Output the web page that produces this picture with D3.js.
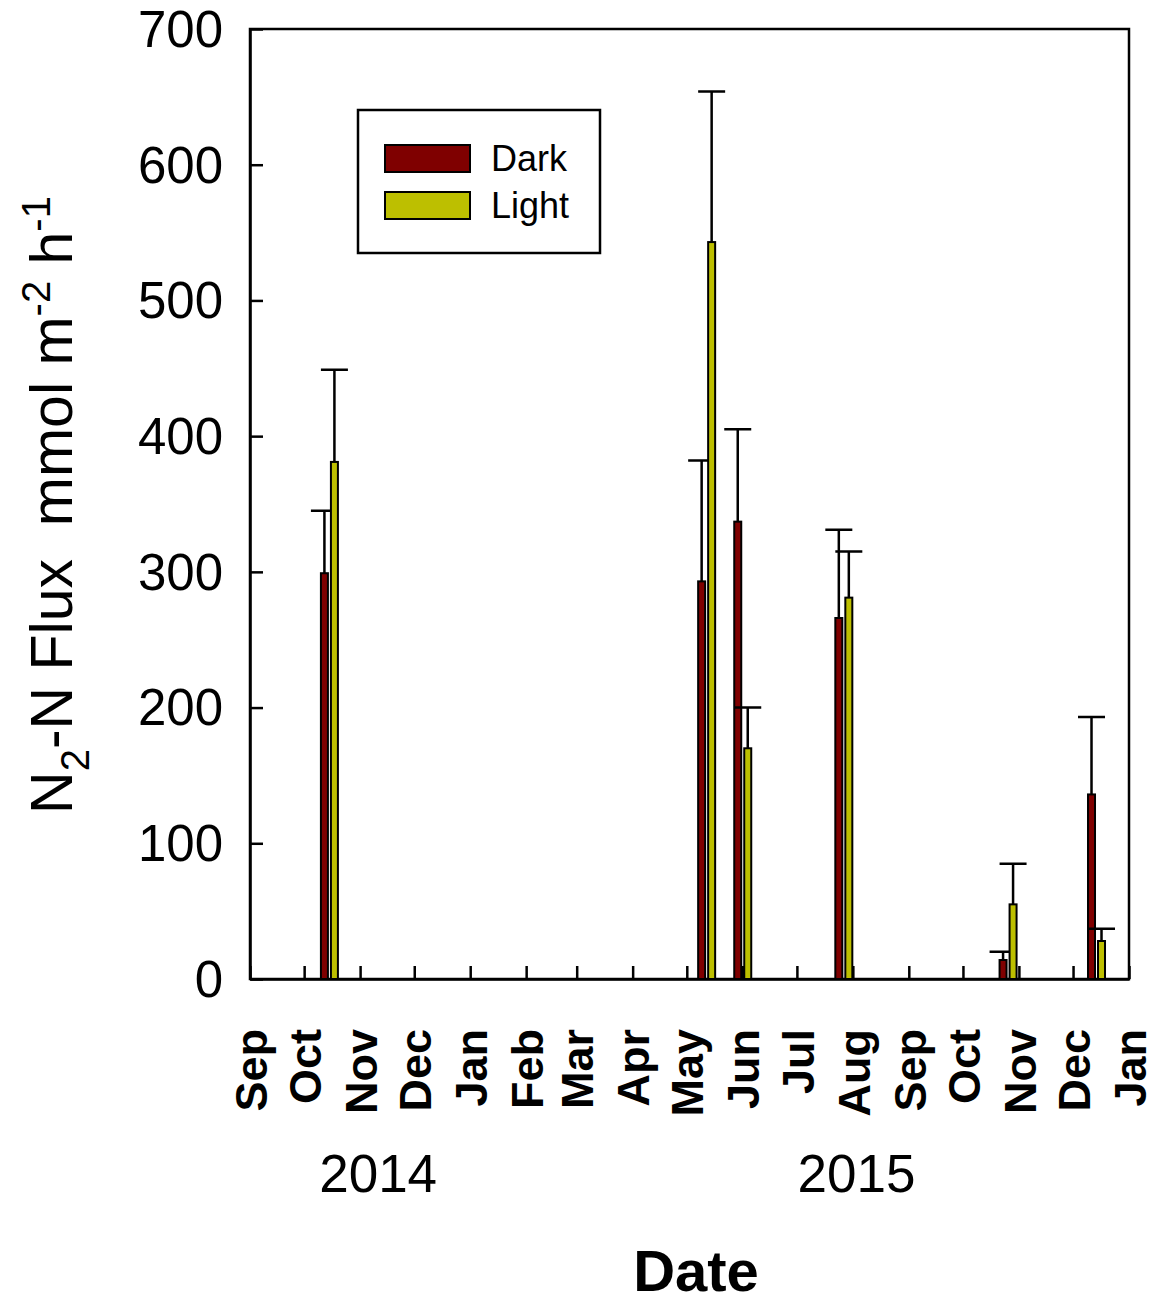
<!DOCTYPE html>
<html>
<head>
<meta charset="utf-8">
<script src="https://cdn.jsdelivr.net/npm/d3@7"></script>
<style>
  html, body { margin: 0; padding: 0; background: #fff; }
  svg { display: block; font-family: "Liberation Sans", Arial, sans-serif; }
</style>
</head>
<body>
<svg id="chart" width="1151" height="1301"></svg>
<script>
// Sampling dates (centre of each Dark/Light pair)
const sampleDates = ["2014-10-15", "2015-05-12", "2015-06-01", "2015-07-27", "2015-10-26", "2015-12-14"];
// N2-N flux, mmol m-2 h-1, with upper error (SE)
const darkFlux  = [299, 293, 337, 266, 14, 136];
const darkErr   = [46, 89, 68, 65, 6, 57];
const lightFlux = [381, 543, 170, 281, 55, 28];
const lightErr  = [68, 111, 30, 34, 30, 9];
const seriesNames = ["Dark", "Light"];
const yTicks = [0, 100, 200, 300, 400, 500, 600, 700];
const yearLabels = [
  { year: "2014", at: "2014-11-11" },
  { year: "2015", at: "2015-08-03" }
];

const colors = { Dark: "#7f0000", Light: "#bdbf00" };

const svg = d3.select("#chart");
const plotLeft = 250, plotRight = 1129, plotTop = 29, plotBottom = 979;

const parse = d3.utcParse("%Y-%m-%d");
const x = d3.scaleUtc()
  .domain([Date.UTC(2014, 8, 1), Date.UTC(2016, 0, 1)])
  .range([plotLeft, plotRight]);
const y = d3.scaleLinear().domain([0, 700]).range([plotBottom, plotTop]);

const months = d3.utcMonth.range(Date.UTC(2014, 8, 1), Date.UTC(2016, 0, 2));

// frame
svg.append("rect")
  .attr("x", plotLeft).attr("y", plotTop)
  .attr("width", plotRight - plotLeft).attr("height", plotBottom - plotTop)
  .attr("fill", "none").attr("stroke", "#000").attr("stroke-width", 2.5);

// x axis
const xAxis = svg.append("g")
  .attr("transform", `translate(0,${plotBottom})`)
  .call(d3.axisBottom(x).tickValues(months).tickSizeInner(-13).tickSizeOuter(0)
    .tickFormat(d3.utcFormat("%b")));
xAxis.select(".domain").attr("stroke-width", 2.5);
xAxis.selectAll(".tick line").attr("stroke-width", 2.5);
xAxis.selectAll(".tick text")
  .attr("transform", "rotate(-90)")
  .attr("x", -50).attr("y", 0).attr("dy", "0.36em")
  .attr("text-anchor", "end")
  .style("font-family", '"Liberation Sans", Arial, sans-serif')
  .style("font-size", "45px").style("font-weight", "bold").attr("fill", "#000");

// y axis
const yAxis = svg.append("g")
  .attr("transform", `translate(${plotLeft},0)`)
  .call(d3.axisLeft(y).tickValues(yTicks).tickSizeInner(-13).tickSizeOuter(0)
    .tickPadding(27));
yAxis.select(".domain").attr("stroke-width", 2.5);
yAxis.selectAll(".tick line").attr("stroke-width", 2.5);
yAxis.selectAll(".tick text")
  .attr("dy", "0.34em")
  .style("font-family", '"Liberation Sans", Arial, sans-serif')
  .style("font-size", "51px").attr("fill", "#000");

// bars + error bars
const rows = sampleDates.map((d, i) => ({
  date: parse(d),
  Dark: { v: darkFlux[i], e: darkErr[i] },
  Light: { v: lightFlux[i], e: lightErr[i] }
}));
const barW = 7, capHalf = 13.5;
const offset = { Dark: -5, Light: 5 };

seriesNames.forEach(name => {
  const g = svg.append("g");
  // error bars (upper only)
  g.selectAll("path.err").data(rows).join("path")
    .attr("class", "err")
    .attr("d", r => {
      const cx = x(r.date) + offset[name];
      const y0 = y(r[name].v), y1 = y(r[name].v + r[name].e);
      return `M${cx},${y0}V${y1}M${cx - capHalf},${y1}H${cx + capHalf}`;
    })
    .attr("fill", "none").attr("stroke", "#000").attr("stroke-width", 2.5);
  g.selectAll("rect").data(rows).join("rect")
    .attr("x", r => x(r.date) + offset[name] - barW / 2)
    .attr("y", r => y(r[name].v))
    .attr("width", barW)
    .attr("height", r => y(0) - y(r[name].v))
    .attr("fill", colors[name]).attr("stroke", "#000").attr("stroke-width", 2);
});

// year labels
svg.selectAll("text.year").data(yearLabels).join("text")
  .attr("class", "year")
  .attr("x", d => x(parse(d.at)))
  .attr("y", 1192)
  .attr("text-anchor", "middle")
  .style("font-size", "53px")
  .text(d => d.year);

// x title
svg.append("text")
  .attr("x", 696).attr("y", 1291)
  .attr("text-anchor", "middle")
  .style("font-size", "58px").style("font-weight", "bold")
  .text("Date");

// y title
const yt = svg.append("text")
  .attr("transform", "translate(72,505) rotate(-90)")
  .attr("text-anchor", "middle")
  .style("font-size", "59px")
  .style("white-space", "pre");
yt.append("tspan").text("N");
yt.append("tspan").attr("dy", 17).style("font-size", "40px").text("2");
yt.append("tspan").attr("dy", -17).text("-N Flux  mmol m");
yt.append("tspan").attr("dy", -22).style("font-size", "40px").text("-2");
yt.append("tspan").attr("dy", 22).text(" h");
yt.append("tspan").attr("dy", -22).style("font-size", "40px").text("-1");

// legend
const lg = svg.append("g");
lg.append("rect").attr("x", 358).attr("y", 110).attr("width", 242).attr("height", 143)
  .attr("fill", "#fff").attr("stroke", "#000").attr("stroke-width", 2.5);
seriesNames.forEach((name, i) => {
  lg.append("rect").attr("x", 385).attr("y", 145 + i * 47).attr("width", 85).attr("height", 27)
    .attr("fill", colors[name]).attr("stroke", "#000").attr("stroke-width", 2);
  lg.append("text").attr("x", 491).attr("y", 171 + i * 47)
    .style("font-size", "36px").text(name);
});
</script>
</body>
</html>
